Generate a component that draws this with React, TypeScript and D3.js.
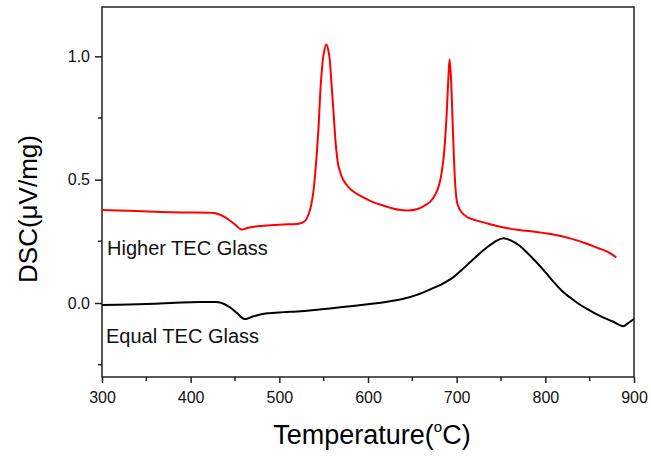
import React, { useEffect, useRef } from 'react';
import * as d3 from 'd3';

// Higher TEC glass (red)
const redTemp = [300, 330, 360, 390, 420, 430, 440, 450, 457, 465, 475, 490, 510, 523, 529, 534, 538, 541, 544, 547, 550, 553, 556, 559, 561, 564, 567, 572, 578, 585, 595, 605, 620, 635, 645, 655, 663, 670, 676, 681, 685, 688, 690.5, 692, 693.5, 695, 697, 699, 701, 705, 712, 722, 735, 752, 770, 790, 809, 828, 846, 860, 870, 880];
const redDsc = [0.377, 0.374, 0.370, 0.367, 0.366, 0.362, 0.345, 0.318, 0.298, 0.305, 0.311, 0.315, 0.319, 0.322, 0.333, 0.37, 0.44, 0.55, 0.70, 0.90, 1.01, 1.049, 1.01, 0.88, 0.78, 0.63, 0.55, 0.50, 0.47, 0.448, 0.428, 0.41, 0.392, 0.378, 0.375, 0.38, 0.393, 0.41, 0.44, 0.49, 0.58, 0.72, 0.90, 0.988, 0.92, 0.78, 0.58, 0.45, 0.40, 0.37, 0.348, 0.335, 0.322, 0.307, 0.296, 0.288, 0.278, 0.262, 0.241, 0.222, 0.208, 0.185];

// Equal TEC glass (black)
const blackTemp = [300, 330, 360, 390, 410, 425, 435, 444, 452, 461, 470, 486, 505, 520, 540, 557, 580, 602, 620, 640, 655, 670, 685, 696, 706, 715, 725, 734, 743, 752, 761, 771, 780, 790, 800, 809, 818, 828, 837, 846, 856, 865, 876, 888, 894, 900];
const blackDsc = [-0.008, -0.006, -0.003, 0.002, 0.004, 0.004, 0.0, -0.017, -0.04, -0.065, -0.055, -0.042, -0.037, -0.034, -0.028, -0.022, -0.013, -0.004, 0.004, 0.017, 0.033, 0.055, 0.08, 0.104, 0.135, 0.165, 0.198, 0.225, 0.248, 0.262, 0.254, 0.232, 0.202, 0.165, 0.125, 0.087, 0.052, 0.022, -0.002, -0.022, -0.042, -0.058, -0.075, -0.094, -0.08, -0.065];

const xTicks = [300, 400, 500, 600, 700, 800, 900];
const yTicks = [0.0, 0.5, 1.0];

export default function App() {
  const svgRef = useRef<SVGSVGElement>(null);

  useEffect(() => {
    if (!svgRef.current) return;
    const svg = d3.select(svgRef.current);
    svg.selectAll('*').remove();

    const left = 102, right = 634, top = 7, bottom = 377;
    const font = 'Arial, "Liberation Sans", sans-serif';

    const x = d3.scaleLinear().domain([300, 900]).range([left, right]);
    const y = d3.scaleLinear().domain([-0.3, 1.2]).range([bottom, top]);

    // frame
    svg.append('rect')
      .attr('x', left).attr('y', top)
      .attr('width', right - left).attr('height', bottom - top)
      .attr('fill', 'none').attr('stroke', '#222').attr('stroke-width', 1.5);

    // bottom axis
    const xAxis = svg.append('g')
      .attr('transform', `translate(0,${bottom})`)
      .call(d3.axisBottom(x).tickValues(xTicks).tickSize(6).tickFormat(d3.format('d')));
    xAxis.select('.domain').remove();
    xAxis.append('g').selectAll('line')
      .data(d3.range(350, 900, 100))
      .enter().append('line')
      .attr('x1', d => x(d)).attr('x2', d => x(d))
      .attr('y1', 0).attr('y2', 4)
      .attr('stroke', '#222').attr('stroke-width', 1.5);
    xAxis.selectAll('.tick line').attr('stroke', '#222').attr('stroke-width', 1.5);
    xAxis.selectAll('.tick text')
      .attr('fill', '#111').attr('dy', '1.05em')
      .style('font-family', font).style('font-size', '16px');

    // left axis
    const yAxis = svg.append('g')
      .attr('transform', `translate(${left},0)`)
      .call(d3.axisLeft(y).tickValues(yTicks).tickSize(7).tickPadding(5).tickFormat(d3.format('.1f')));
    yAxis.select('.domain').remove();
    yAxis.append('g').selectAll('line')
      .data([-0.25, 0.25, 0.75])
      .enter().append('line')
      .attr('x1', 0).attr('x2', -4)
      .attr('y1', d => y(d)).attr('y2', d => y(d))
      .attr('stroke', '#222').attr('stroke-width', 1.5);
    yAxis.selectAll('.tick line').attr('stroke', '#222').attr('stroke-width', 1.5);
    yAxis.selectAll('.tick text')
      .attr('fill', '#111')
      .style('font-family', font).style('font-size', '16px');

    const line = d3.line<[number, number]>()
      .x(d => x(d[0])).y(d => y(d[1]))
      .curve(d3.curveCatmullRom.alpha(0.5));

    svg.append('path')
      .datum(blackTemp.map((t, i) => [t, blackDsc[i]] as [number, number]))
      .attr('d', line).attr('fill', 'none')
      .attr('stroke', '#000').attr('stroke-width', 2);

    svg.append('path')
      .datum(redTemp.map((t, i) => [t, redDsc[i]] as [number, number]))
      .attr('d', line).attr('fill', 'none')
      .attr('stroke', '#f00').attr('stroke-width', 2);

    // curve labels
    svg.append('text').attr('x', 107).attr('y', 255)
      .style('font-family', font).style('font-size', '20px').attr('fill', '#111')
      .text('Higher TEC Glass');
    svg.append('text').attr('x', 106).attr('y', 343)
      .style('font-family', font).style('font-size', '20px').attr('fill', '#111')
      .text('Equal TEC Glass');

    // axis titles
    const xt = svg.append('text').attr('x', 372).attr('y', 444)
      .attr('text-anchor', 'middle')
      .style('font-family', font).style('font-size', '27px').attr('fill', '#000');
    xt.append('tspan').text('Temperature(');
    xt.append('tspan').attr('dy', -12).style('font-size', '15px').text('o');
    xt.append('tspan').attr('dy', 12).text('C)');

    svg.append('text')
      .attr('transform', 'translate(37,209) rotate(-90)')
      .attr('text-anchor', 'middle')
      .style('font-family', font).style('font-size', '26px').attr('fill', '#000')
      .text('DSC(\u03bcV/mg)');
  }, []);

  return (
    <svg ref={svgRef} width={651} height={458}
      style={{ position: 'absolute', left: 0, top: 0, background: '#fff' }} />
  );
}
